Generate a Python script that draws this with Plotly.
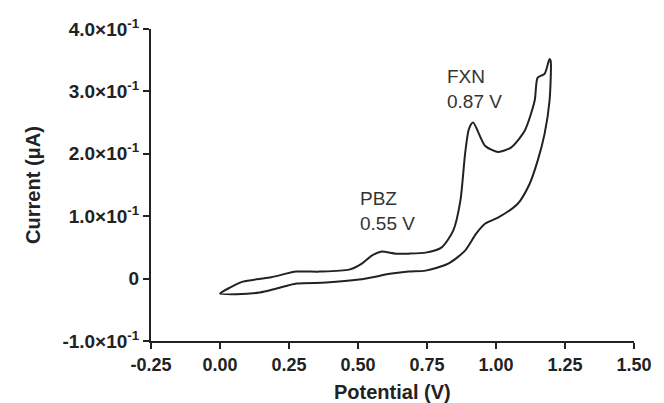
import plotly.graph_objects as go

# Forward (anodic) scan
potential_forward = [0.000, 0.036, 0.083, 0.180, 0.277, 0.360, 0.468, 0.514, 0.550, 0.583,
                     0.637, 0.683, 0.745, 0.802, 0.845, 0.871, 0.888, 0.902, 0.917, 0.960, 1.007,
                     1.054, 1.104, 1.140, 1.151, 1.176, 1.194]
current_forward = [-0.024, -0.0144, -0.0048, 0.0016, 0.0112, 0.0112, 0.0144, 0.024, 0.0368, 0.0432,
                   0.040, 0.040, 0.0416, 0.0496, 0.0768, 0.125, 0.200, 0.240, 0.250, 0.213, 0.203,
                   0.210, 0.237, 0.285, 0.322, 0.328, 0.352]
# Reverse scan
potential_reverse = [1.198, 1.194, 1.176, 1.151, 1.122, 1.079, 1.007, 0.960, 0.928, 0.888,
                     0.827, 0.745, 0.683, 0.622, 0.504, 0.385, 0.277, 0.205, 0.144, 0.060, 0.000]
current_reverse = [0.349, 0.285, 0.232, 0.189, 0.152, 0.120, 0.0976, 0.088, 0.072, 0.0448,
                   0.024, 0.0128, 0.0112, 0.008, -0.0016, -0.0064, -0.008, -0.016, -0.0224, -0.025, -0.024]

x_ticks = [-0.25, 0.00, 0.25, 0.50, 0.75, 1.00, 1.25, 1.50]
x_tick_labels = ["-0.25", "0.00", "0.25", "0.50", "0.75", "1.00", "1.25", "1.50"]
y_ticks = [-0.1, 0.0, 0.1, 0.2, 0.3, 0.4]
y_tick_labels = ["-1.0×10<sup>-1</sup>", "0", "1.0×10<sup>-1</sup>", "2.0×10<sup>-1</sup>",
                 "3.0×10<sup>-1</sup>", "4.0×10<sup>-1</sup>"]

x_title = "Potential (V)"
y_title = "Current (μA)"

peak_labels = ["PBZ<br>0.55 V", "FXN<br>0.87 V"]
peak_label_x = [0.50, 0.817]
peak_label_y = [0.148, 0.344]

FONT = "Liberation Sans, Arial, sans-serif"
INK = "#222222"

fig = go.Figure()
fig.add_trace(go.Scatter(
    x=potential_forward + potential_reverse,
    y=current_forward + current_reverse,
    mode="lines",
    line=dict(color=INK, width=2, shape="spline", smoothing=0.7),
    showlegend=False,
    hoverinfo="skip",
))

for txt, ax_, ay_ in zip(peak_labels, peak_label_x, peak_label_y):
    fig.add_annotation(x=ax_, y=ay_, text=txt, showarrow=False, xanchor="left", yanchor="top",
                       align="left", font=dict(family=FONT, size=19, color="#333333"))

# x-axis title placed as a paper annotation so it can sit lower than the margin allows
fig.add_annotation(x=0.5, y=-0.163, xref="paper", yref="paper", text=x_title, showarrow=False,
                   xanchor="center", yanchor="middle",
                   font=dict(family=FONT, size=20, color=INK, weight="bold"))

fig.update_layout(
    width=664, height=403,
    margin=dict(l=151, r=27, t=29, b=62),
    paper_bgcolor="white", plot_bgcolor="white",
    font=dict(family=FONT, color=INK),
    xaxis=dict(
        range=[-0.25, 1.5], tickvals=x_ticks, ticktext=x_tick_labels,
        showline=True, linecolor=INK, linewidth=2, ticks="outside", ticklen=6,
        tickwidth=2, tickcolor=INK, showgrid=False, zeroline=False,
        tickfont=dict(family=FONT, size=18, color=INK, weight="bold"),
    ),
    yaxis=dict(
        range=[-0.1, 0.4], tickvals=y_ticks, ticktext=y_tick_labels,
        showline=True, linecolor=INK, linewidth=2, ticks="outside", ticklen=6,
        tickwidth=2, tickcolor=INK, showgrid=False, zeroline=False,
        tickfont=dict(family=FONT, size=19, color=INK, weight="bold"),
        title=dict(text=y_title, font=dict(family=FONT, size=20, color=INK, weight="bold"),
                   standoff=16),
    ),
)

fig.write_html("out.html")
